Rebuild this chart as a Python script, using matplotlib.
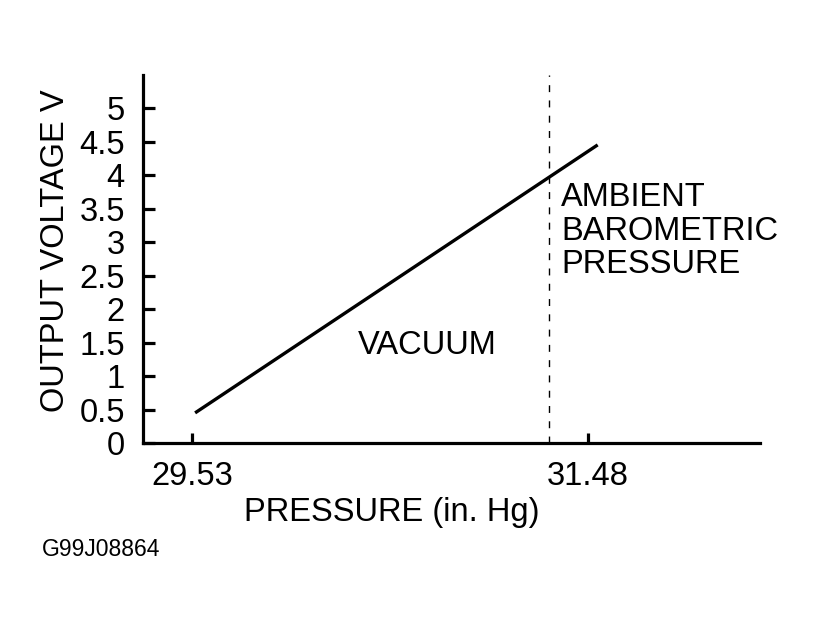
import matplotlib
matplotlib.use("Agg")
import matplotlib.pyplot as plt

plt.rcParams['font.family'] = ['Liberation Sans', 'DejaVu Sans']

# data
pressure = [29.545, 31.53]
voltage = [0.45, 4.45]
ambient_p = 31.29
yticks = [0, 0.5, 1, 1.5, 2, 2.5, 3, 3.5, 4, 4.5, 5]
ytick_labels = ['0', '0.5', '1', '1.5', '2', '2.5', '3', '3.5', '4', '4.5', '5']
xticks = [29.53, 31.48]
xtick_labels = ['29.53', '31.48']

fs = 23.5

fig = plt.figure(figsize=(8.18, 6.32), dpi=100)
ax = fig.add_axes([0.1748, 0.299, 0.929 - 0.1748, 0.881 - 0.299])

ax.plot(pressure, voltage, color='black', lw=2.4, solid_capstyle='butt')
ax.axvline(ambient_p, color='black', lw=1.0, linestyle=(0, (5, 6)))

ax.set_xlim(29.288, 32.33)
ax.set_ylim(0, 5.49)

ax.spines['top'].set_visible(False)
ax.spines['right'].set_visible(False)
ax.spines['left'].set_linewidth(2.3)
ax.spines['bottom'].set_linewidth(2.3)

ax.set_yticks(yticks)
ax.set_yticklabels(ytick_labels)
ax.set_xticks(xticks)
ax.set_xticklabels(xtick_labels)
ax.tick_params(axis='y', direction='in', length=8.5, width=2.3, pad=13, labelsize=fs)
ax.tick_params(axis='x', direction='in', length=7.5, width=2.3, pad=13, labelsize=fs)

ax.set_xlabel('PRESSURE (in. Hg)', fontsize=fs)
ax.xaxis.set_label_coords(0.4036, -0.19)
ax.xaxis.label.set_va('center')
ax.set_ylabel('OUTPUT VOLTAGE V', fontsize=fs)
ax.yaxis.set_label_coords(-0.1426, 0.524)
ax.yaxis.label.set_va('center')

ax.text(30.69, 1.46, 'VACUUM', fontsize=fs, ha='center', va='center')
ax.text(31.35, 3.89, 'AMBIENT\nBAROMETRIC\nPRESSURE', fontsize=fs,
        ha='left', va='top', linespacing=1.1)

fig.text(42 / 818, 1 - 549 / 632, 'G99J08864', fontsize=16.5, ha='left', va='center')

fig.savefig('out.png', dpi=100)
